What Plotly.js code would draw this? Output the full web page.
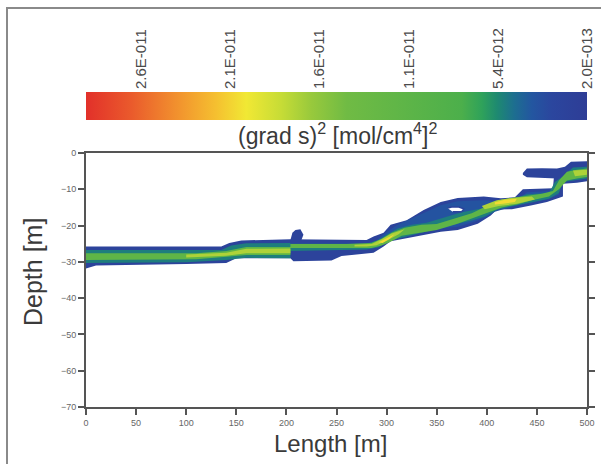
<!DOCTYPE html>
<html>
<head>
<meta charset="utf-8">
<script src="https://cdn.plot.ly/plotly-3.0.1.min.js"></script>
<style>html,body{margin:0;padding:0;background:#fff;}#chart{width:601px;height:464px;}</style>
</head>
<body>
<div id="chart"></div>
<script>
// ---------- colour scale (bar position 0 = high value, left) ----------
const barMax = 2.92e-11;       // value at left end of colour bar
const barMin = 2.0e-13;        // value at right end of colour bar
const tickValues = [2.6e-11, 2.084e-11, 1.568e-11, 1.052e-11, 5.36e-12, 2.0e-13];
const tickLabels = ["2.6E-011", "2.1E-011", "1.6E-011", "1.1E-011", "5.4E-012", "2.0E-013"];
const scalePos = [0, 0.09, 0.19, 0.26, 0.32, 0.39, 0.45, 0.52, 0.75, 0.79, 0.82, 0.855, 0.89, 0.93, 1.0];
const scaleCol = ["#e2302a", "#ea5a2c", "#f2962e", "#f5c030", "#f1e834", "#c6dc36", "#98c93c", "#70bb44",
                  "#4caf4b", "#2fa25a", "#1e8a70", "#1d6e90", "#2356a0", "#2b469e", "#2e3d96"];

// ---------- contour levels (grad s)^2 ----------
const levelNavy = 1.5e-12;
const levelBlue = 3.2e-12;
const levelTeal = 5.0e-12;
const levelGreen = 1.1e-11;
const levelYellowGreen = 1.7e-11;
const levelYellow = 2.05e-11;

// ---------- contour outlines: Length [m] / Depth [m] ----------
const navyMainLen = [0,135,143,155,204,280,287,297,304,320,337,354,371,397,414,428,436,466,467,476,476,460,444,425,410,404,391,371,354,337,320,304,297,287,255,245,207,204,150,140,100,10,0];
const navyMainDepth = [-25.8,-25.8,-24.8,-24.1,-23.8,-24.0,-23.0,-22.0,-19.8,-18.5,-15.7,-13.5,-12.4,-12.0,-12.5,-12.2,-10.0,-9.7,-6.6,-6.6,-12.0,-13.5,-14.5,-15.5,-15.6,-17.2,-19.5,-21.2,-21.7,-22.6,-23.5,-24.3,-25.8,-27.5,-28.4,-29.6,-29.8,-29.0,-29.0,-30.3,-30.6,-31.0,-31.8];

const navyArmLen = [436,440,455,470,478,484,500,500,490,476,470,455,440,436];
const navyArmDepth = [-5.5,-4.3,-4.2,-4.3,-3.8,-2.4,-2.3,-7.8,-8.2,-8.5,-7.0,-6.8,-6.7,-6.0];

const navyHookLen = [204,206,209,214,217,215];
const navyHookDepth = [-24.0,-22.0,-21.2,-21.0,-22.5,-24.0];

const blueLen = [290,300,311,337,354,371,397,414,430,440,465,472,472,460,444,425,408,400,387,371,354,337,304,295];
const blueDepth = [-24.0,-21.8,-19.8,-16.6,-14.4,-13.3,-13.0,-13.4,-13.0,-10.8,-10.5,-9.0,-11.5,-12.8,-13.8,-14.8,-16.2,-17.6,-19.0,-20.3,-20.8,-21.6,-23.4,-25.0];

const tealLen = [0,135,145,160,204,204,280,292,300,311,325,340,355,375,395,410,425,440,462,468,476,486,500,500,488,476,472,462,445,428,412,398,385,370,350,330,311,300,292,280,207,204,204,160,140,100,0];
const tealDepth = [-26.7,-26.7,-25.5,-24.9,-24.8,-25.0,-25.0,-24.0,-22.5,-20.8,-19.8,-19.2,-18.0,-16.3,-15.3,-13.6,-12.8,-11.4,-11.0,-8.0,-6.4,-4.0,-3.8,-7.0,-7.5,-8.0,-11.0,-12.6,-13.6,-14.6,-15.4,-17.5,-18.6,-19.6,-21.0,-22.4,-23.6,-24.6,-26.0,-26.6,-26.8,-27.0,-29.0,-28.9,-29.5,-30.1,-30.3];

const greenLen = [0,110,140,160,204,204,260,285,295,305,318,335,350,365,385,400,415,435,455,466,472,480,490,500,500,490,480,472,462,445,430,415,402,388,370,350,330,315,303,295,285,204,204,160,140,110,0];
const greenDepth = [-27.6,-27.6,-27.0,-25.9,-25.9,-25.1,-25.1,-24.8,-23.6,-22.0,-20.6,-19.8,-19.6,-18.4,-16.6,-14.6,-12.8,-12.0,-11.2,-10.5,-7.6,-5.2,-4.6,-4.3,-6.6,-7.0,-7.6,-10.0,-12.0,-13.0,-14.2,-15.0,-16.3,-17.8,-19.6,-21.2,-22.0,-22.8,-24.6,-25.5,-26.2,-26.2,-28.1,-28.1,-28.6,-29.3,-29.5];

const ygLeftLen = [100,140,160,204,204,160,140,100];
const ygLeftDepth = [-28.0,-27.5,-26.4,-26.3,-27.6,-27.6,-28.3,-28.8];
const ygMidLen = [268,285,295,305,318,312,300,290,280,268];
const ygMidDepth = [-25.3,-25.1,-23.8,-22.2,-21.0,-22.4,-24.2,-25.4,-25.8,-25.8];
const ygUpLen = [395,410,425,445,448,430,412,398];
const ygUpDepth = [-14.6,-13.0,-12.4,-12.0,-12.8,-14.0,-14.6,-15.5];
const ygEndLen = [486,500,500,488];
const ygEndDepth = [-4.8,-4.6,-6.0,-6.4];

const yelMidLen = [292,300,308,303,296];
const yelMidDepth = [-24.6,-23.4,-22.4,-23.6,-24.8];
const yelUpLen = [408,418,430,428,416,408];
const yelUpDepth = [-13.6,-12.9,-12.6,-13.5,-14.0,-14.2];

const holeLen = [361,365,372,377,375,366];
const holeDepth = [-15.2,-14.9,-14.9,-15.4,-16.2,-16.2];

// ---------- axes ----------
const lengthTicks = [0,50,100,150,200,250,300,350,400,450,500];
const depthTicks = [0,-10,-20,-30,-40,-50,-60,-70];

// ---------- helpers ----------
function hexToRgb(h){return [parseInt(h.substr(1,2),16),parseInt(h.substr(3,2),16),parseInt(h.substr(5,2),16)];}
function colourFor(v){
  const f = Math.min(1, Math.max(0, (barMax - v) / (barMax - barMin)));
  for (let i = 0; i < scalePos.length - 1; i++){
    if (f >= scalePos[i] && f <= scalePos[i+1]){
      const t = (f - scalePos[i]) / (scalePos[i+1] - scalePos[i]);
      const a = hexToRgb(scaleCol[i]), b = hexToRgb(scaleCol[i+1]);
      return 'rgb(' + a.map((c,k)=>Math.round(c + (b[k]-c)*t)).join(',') + ')';
    }
  }
  return scaleCol[scaleCol.length-1];
}
function patch(xs, ys, colour, lineCol, lineW){
  return {type:'scatter', mode:'lines', x:xs, y:ys, fill:'toself', fillcolor:colour,
          line:{width:lineW||0, color:lineCol||colour}, hoverinfo:'skip', showlegend:false};
}

const plotScale = scalePos.map((p,i)=>[p, scaleCol[i]]);

// pixel layout helpers (paper fractions)
const TOP = 8, BOTTOM = 57;           // margins
const H = 464 - TOP - BOTTOM;         // plot-area height in px
const py = p => (464 - BOTTOM - p) / H;  // page y px -> paper y
const px = p => (p - 86) / 501;          // page x px -> paper x

const traces = [
  patch(navyMainLen, navyMainDepth, colourFor(levelNavy)),
  patch(navyArmLen, navyArmDepth, colourFor(levelNavy)),
  patch(navyHookLen, navyHookDepth, colourFor(levelNavy)),
  patch(blueLen, blueDepth, colourFor(levelBlue)),
  patch(tealLen, tealDepth, colourFor(levelTeal)),
  patch(greenLen, greenDepth, colourFor(levelGreen)),
  patch(ygLeftLen, ygLeftDepth, colourFor(levelYellowGreen)),
  patch(ygMidLen, ygMidDepth, colourFor(levelYellowGreen)),
  patch(ygUpLen, ygUpDepth, colourFor(levelYellowGreen)),
  patch(ygEndLen, ygEndDepth, colourFor(levelYellowGreen)),
  patch(yelMidLen, yelMidDepth, colourFor(levelYellow)),
  patch(yelUpLen, yelUpDepth, colourFor(levelYellow)),
  patch(holeLen, holeDepth, '#ffffff', colourFor(levelNavy), 1.5),
  {
    type:'scatter', mode:'markers', x:[null], y:[null], xaxis:'x2', yaxis:'y2', hoverinfo:'skip', showlegend:false,
    marker:{
      size:0, color:[-barMax, -barMin], cmin:-barMax, cmax:-barMin, colorscale:plotScale, showscale:true,
      colorbar:{
        orientation:'h', xref:'paper', yref:'paper', x:0.5, xanchor:'center', y:py(120), yanchor:'bottom',
        len:1, lenmode:'fraction', thickness:28, thicknessmode:'pixels', xpad:0, ypad:0,
        outlinewidth:0, ticks:'', showticklabels:false
      }
    }
  }
];

const axisCommon = {
  showgrid:false, zeroline:false, showline:true, linecolor:'#555', linewidth:2,
  ticks:'outside', ticklen:6, tickwidth:2, tickcolor:'#555',
  tickfont:{family:'Liberation Sans, Arial, sans-serif', size:9, color:'#666'}
};

const layout = {
  width:601, height:464,
  margin:{l:86, r:14, t:TOP, b:BOTTOM, pad:0, autoexpand:false},
  paper_bgcolor:'#ffffff', plot_bgcolor:'#ffffff',
  showlegend:false,
  xaxis:Object.assign({}, axisCommon, {range:[0,500], tickmode:'array', tickvals:lengthTicks, mirror:true, anchor:'y'}),
  yaxis:Object.assign({}, axisCommon, {range:[-70,0], tickmode:'array', tickvals:depthTicks, mirror:'ticks',
                                       domain:[0, py(153)], anchor:'x'}),
  xaxis2:{domain:[0,1], anchor:'y2', side:'top', range:[-barMax, -barMin], tickmode:'array',
          tickvals:tickValues.map(v=>-v), ticktext:tickLabels, tickangle:-90, ticks:'',
          showline:false, showgrid:false, zeroline:false, ticklabelstandoff:2,
          tickfont:{family:'Liberation Sans, Arial, sans-serif', size:15, color:'#4a4a4a'}},
  yaxis2:{domain:[py(120), py(92)], anchor:'x2', visible:false, range:[0,1]},
  annotations:[
    {xref:'paper', yref:'paper', x:px(337), y:py(134), xanchor:'center', yanchor:'middle', showarrow:false,
     text:'(grad s)<sup>2</sup> [mol/cm<sup>4</sup>]<sup>2</sup>',
     font:{family:'Liberation Sans, Arial, sans-serif', size:23, color:'#3a3a3a'}},
    {xref:'paper', yref:'paper', x:px(33), y:py(272), xanchor:'center', yanchor:'middle', showarrow:false,
     textangle:-90, text:'Depth [m]', font:{family:'Liberation Sans, Arial, sans-serif', size:25, color:'#3a3a3a'}},
    {xref:'paper', yref:'paper', x:px(330), y:py(443), xanchor:'center', yanchor:'middle', showarrow:false,
     text:'Length [m]', font:{family:'Liberation Sans, Arial, sans-serif', size:24, color:'#3a3a3a'}}
  ],
  shapes:[
    {type:'rect', xref:'paper', yref:'paper', x0:px(7), x1:px(640), y0:py(490), y1:py(8),
     line:{color:'#8a8a8a', width:2}, fillcolor:'rgba(0,0,0,0)', layer:'below'}
  ]
};

Plotly.newPlot('chart', traces, layout, {staticPlot:true, displayModeBar:false});
</script>
</body>
</html>
